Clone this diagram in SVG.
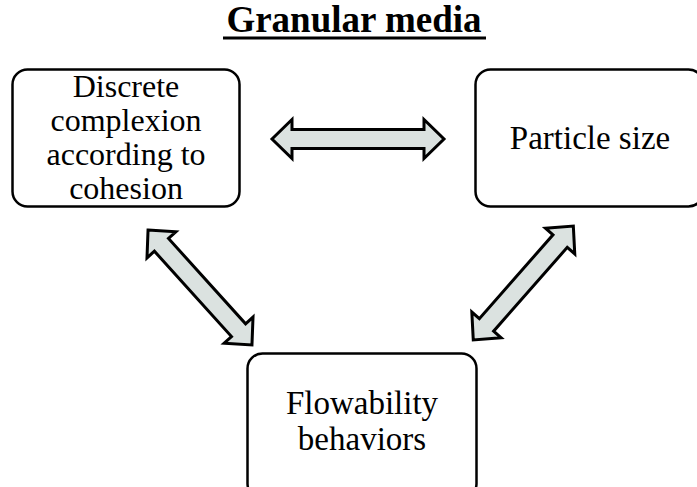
<svg xmlns="http://www.w3.org/2000/svg" width="697" height="487" viewBox="0 0 697 487">
<style>
.box{fill:#fff;stroke:#000;stroke-width:2.5}
.lbl{font-family:"Liberation Serif","Times New Roman",serif;font-size:33px;fill:#000;text-anchor:middle}
.arr{fill:#dbe2e0;stroke:#000;stroke-width:3;stroke-linejoin:miter}
.title{font-family:"Liberation Serif","Times New Roman",serif;font-size:37px;font-weight:bold;fill:#000;text-anchor:middle}
</style>
<rect width="697" height="487" fill="#fff"/>
<g id="title">
<text class="title" x="354" y="32">Granular media</text>
<rect x="223" y="36.5" width="263" height="3" fill="#000"/>
</g>
<g id="connectors">
<polygon class="arr" transform="translate(358,139)" points="-86,0 -66,-19.5 -66,-9.5 66,-9.5 66,-19.5 86,0 66,19.5 66,9.5 -66,9.5 -66,19.5"/>
<polygon class="arr" transform="translate(200,287.5) rotate(47.9)" points="-77.5,0 -57.5,-19.5 -57.5,-9.5 57.5,-9.5 57.5,-19.5 77.5,0 57.5,19.5 57.5,9.5 -57.5,9.5 -57.5,19.5"/>
<polygon class="arr" transform="translate(523.3,283) rotate(-48.7)" points="-75.8,0 -55.8,-19.5 -55.8,-9.5 55.8,-9.5 55.8,-19.5 75.8,0 55.8,19.5 55.8,9.5 -55.8,9.5 -55.8,19.5"/>
</g>
<g id="node-discrete">
<rect class="box" x="12.5" y="69.5" width="227" height="137" rx="15"/>
<text class="lbl" style="font-size:32px" x="126" y="97">Discrete</text>
<text class="lbl" style="font-size:32px" x="126" y="131">complexion</text>
<text class="lbl" style="font-size:32px" x="126" y="165">according to</text>
<text class="lbl" style="font-size:32px" x="126" y="199">cohesion</text>
</g>
<g id="node-particle">
<rect class="box" x="475.5" y="69.5" width="228" height="137" rx="15"/>
<text class="lbl" x="590" y="149">Particle size</text>
</g>
<g id="node-flowability">
<rect class="box" x="247.5" y="353.5" width="229" height="145" rx="15"/>
<text class="lbl" x="362" y="414">Flowability</text>
<text class="lbl" x="362" y="450">behaviors</text>
</g>
</svg>
